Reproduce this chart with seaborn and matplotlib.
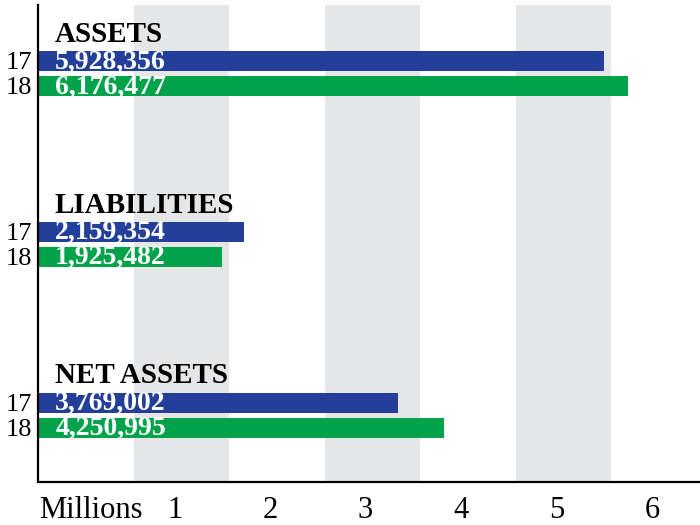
import pandas as pd
import numpy as np
import matplotlib.pyplot as plt
import seaborn as sns

# --- Dados ---
groups = ["ASSETS", "LIABILITIES", "NET ASSETS"]
years = ["17", "18"]
values_17 = [5928356, 2159354, 3769002]
values_18 = [6176477, 1925482, 4250995]
tick_labels = ["Millions", "1", "2", "3", "4", "5", "6"]

df = pd.DataFrame({
    "group": groups * 2,
    "year": [years[0]] * 3 + [years[1]] * 3,
    "value": values_17 + values_18,
})
df["millions"] = df["value"] / 1e6

# --- Estilo ---
sns.set_style("white")
plt.rcParams["font.family"] = ["Liberation Serif", "DejaVu Serif"]

blue = "#233f99"
green = "#00a34a"
band = "#e5e6e8"

fig = plt.figure(figsize=(7, 5.25), dpi=100)
ax = fig.add_axes([38 / 700, 1 - 482 / 525, 1 - 38 / 700, (482 - 5) / 525])

# faixas cinzas
for n in [1, 3, 5]:
    ax.axvspan(n, n + 1, color=band, zorder=0, lw=0)

sns.barplot(data=df, y="group", x="millions", hue="year", order=groups,
            hue_order=years, palette=[blue, green], orient="h",
            width=0.293, gap=0.2, dodge=True, legend=False, ax=ax,
            saturation=1, zorder=2, linewidth=0)

ax.set_xlim(0, (700 - 38) / 95.5)
ax.set_ylim(2.392, -0.401)

# rótulos de valor e anos
ypos, ylabs = [], []
for cont, yr, vals in zip(ax.containers, years, [values_17, values_18]):
    for patch, v in zip(cont.patches, vals):
        yc = patch.get_y() + patch.get_height() / 2
        ypos.append(yc)
        ylabs.append(yr)
        ax.text(0.18, yc + 0.005, f"{v:,}", color="white", fontsize=20,
                fontweight="bold", va="center", ha="left", zorder=3)

# títulos dos grupos
for i, g in enumerate(groups):
    ax.text(0.178, i - 0.185, g, fontsize=21, fontweight="bold",
            va="baseline", ha="left", color="black", zorder=3)

ax.set_yticks(ypos)
ax.set_yticklabels(ylabs, fontsize=19)
ax.set_xticks([0.55] + [n + 0.43 for n in range(1, 7)])
ax.set_xticklabels(tick_labels, fontsize=22)
ax.tick_params(axis="both", length=0, colors="black")
ax.tick_params(axis="x", pad=10)
ax.tick_params(axis="y", pad=4)
ax.set_xlabel("")
ax.set_ylabel("")

for s in ["top", "right"]:
    ax.spines[s].set_visible(False)
for s in ["left", "bottom"]:
    ax.spines[s].set_color("black")
    ax.spines[s].set_linewidth(1.6)

fig.savefig("out.png", dpi=100)
